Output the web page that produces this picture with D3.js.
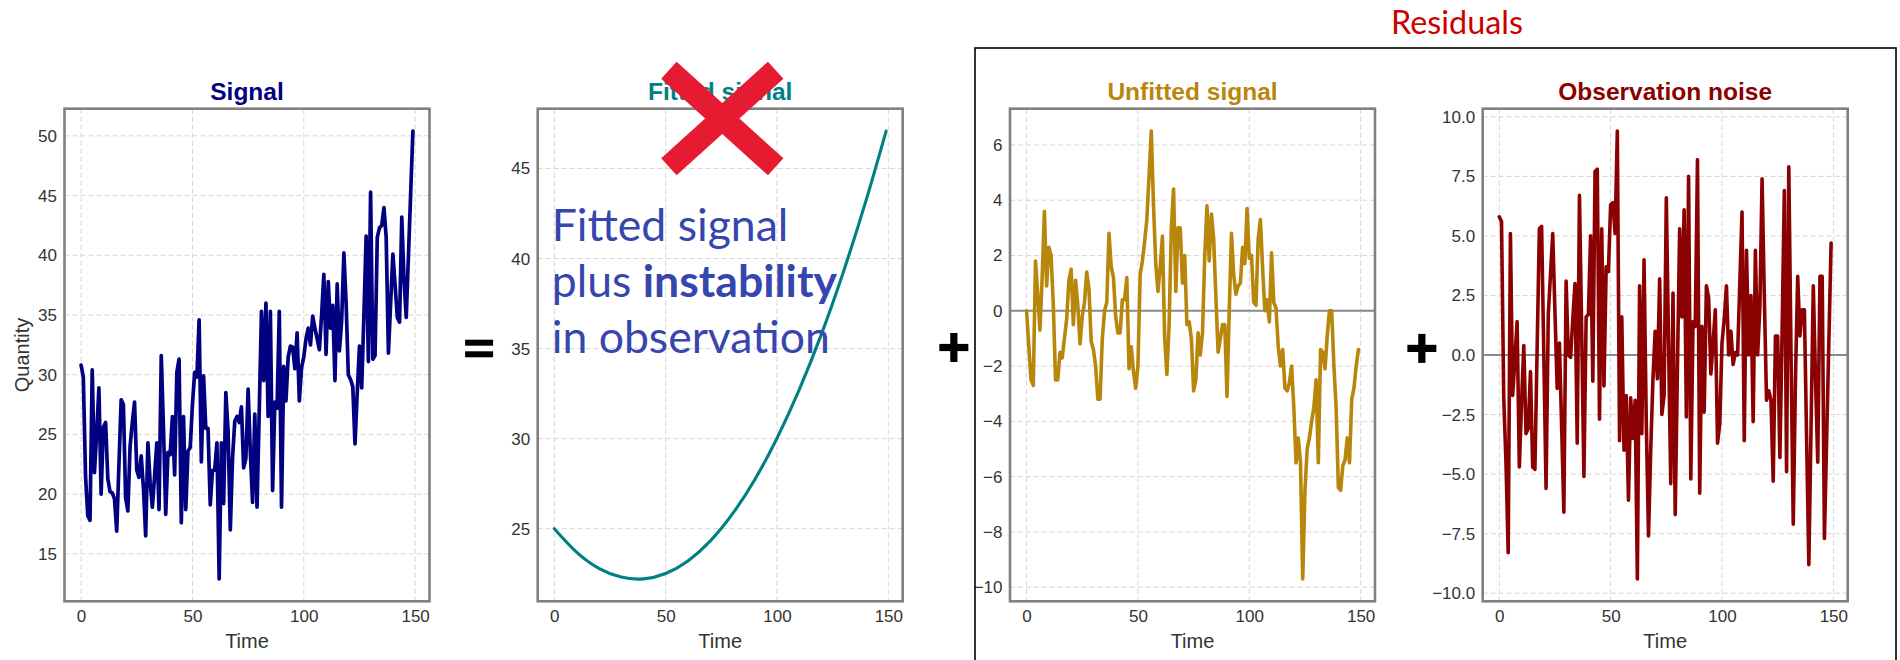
<!DOCTYPE html>
<html><head><meta charset="utf-8">
<script src="https://cdn.jsdelivr.net/npm/d3@7"></script>
<style>html,body{margin:0;padding:0;background:#fff;} svg{display:block;}</style>
</head><body>
<svg id="c" width="1900" height="660"></svg>
<script>
// ---------------- data ----------------
const signal = [30.8,29.8,21.5,18.2,17.8,30.4,21.8,25.1,28.9,20.0,
 25.6,26.0,21.3,20.2,20.1,19.6,16.9,22.5,27.9,27.5,
 19.7,18.6,24.0,26.0,27.7,22.0,21.4,23.2,20.5,16.5,
 24.3,21.0,18.9,21.5,24.3,18.7,31.6,25.5,18.3,23.5,
 23.3,26.5,21.6,30.2,31.3,17.6,26.5,18.7,23.6,23.9,
 27.5,30.2,29.8,34.6,22.7,29.9,25.5,25.5,19.1,22.0,
 22.0,24.3,12.9,24.3,19.2,28.5,25.3,17.0,23.0,26.1,
 26.5,26.0,27.3,22.2,23.0,28.8,23.5,19.3,26.7,18.9,
 27.0,35.3,29.5,36.0,26.5,35.3,20.3,27.7,27.2,35.3,
 18.9,30.7,27.8,31.5,32.4,32.3,30.5,33.5,27.8,30.6,
 31.5,33.0,33.9,32.5,34.9,33.9,33.0,32.1,35.0,38.4,
 31.7,37.8,33.9,35.8,29.5,37.6,32.0,34.5,40.2,36.0,
 30.0,29.6,29.0,24.2,28.5,32.4,28.9,35.0,41.6,31.1,
 45.3,31.3,31.6,41.5,42.3,42.5,44.0,41.5,31.8,36.0,
 40.1,37.5,34.8,34.4,43.2,38.0,34.8,40.0,45.2,50.4];

const fittedTime = [0,10,20,30,40,50,60,70,80,90,100,110,120,130,140,149];
const fitted = [25.0,23.7,22.8,22.31,22.21,22.51,23.21,24.31,25.82,27.72,30.02,32.72,35.82,39.33,43.23,47.08];

const unfitted = [0.0,-1.3,-2.5,-2.7,1.8,0.6,-0.7,1.2,3.6,0.9,
 2.3,2.0,0.2,-2.5,-2.5,-1.5,-1.7,-1.0,-0.3,1.1,
 1.5,-0.5,1.1,0.2,-1.2,-0.2,0.3,1.4,0.8,-1.1,
 -1.4,-2.0,-3.2,-3.2,-1.0,0.0,0.3,2.8,1.6,1.2,
 -0.2,-0.8,-0.8,0.4,0.4,1.2,-2.1,-1.3,-2.2,-2.8,
 -2.0,1.3,1.8,2.5,3.3,4.9,6.5,3.8,1.7,0.7,
 1.6,2.7,-1.0,-2.3,-0.5,3.0,4.4,0.7,3.0,3.0,
 1.0,2.0,-0.5,-0.4,-1.0,-2.9,-2.5,-0.8,-1.6,-0.8,
 2.0,3.8,1.8,3.5,2.6,0.5,-1.5,-1.0,-0.5,-0.5,
 -3.1,0.0,2.8,1.3,0.6,0.9,1.0,2.3,1.7,3.7,
 1.9,2.0,0.3,0.2,2.6,3.3,1.5,0.0,0.4,-0.4,
 2.1,0.3,0.1,-1.3,-2.0,-1.4,-2.8,-2.9,-2.6,-2.0,
 -3.5,-5.5,-4.6,-5.5,-9.7,-6.5,-5.0,-4.6,-4.0,-3.5,
 -2.5,-5.5,-1.4,-1.5,-2.1,-0.9,0.0,0.0,-2.0,-3.5,
 -6.4,-6.5,-5.6,-5.4,-4.6,-5.5,-3.2,-2.8,-2.0,-1.4];

const noise = [5.8,5.6,-1.8,-4.5,-8.3,5.1,-1.7,-0.2,1.4,-4.7,
 -2.0,0.4,-3.3,-3.1,-0.7,-4.7,-4.8,0.3,5.3,5.4,
 0.0,-5.6,1.7,3.4,5.1,1.8,-1.4,0.5,-3.0,-6.6,
 3.1,0.0,-0.1,1.5,3.0,-3.7,6.7,1.0,-5.1,1.6,
 1.7,5.0,-1.1,7.7,7.8,-2.7,5.3,-1.3,3.7,3.5,
 6.3,6.4,5.1,9.4,-3.6,1.6,-4.0,-1.7,-6.1,-1.8,
 -3.5,-1.9,-9.4,2.9,-3.3,4.0,-2.8,-7.6,-4.0,-1.0,
 1.0,-1.0,3.2,-2.5,-1.7,6.6,0.5,-5.4,2.6,-6.7,
 -0.5,5.3,1.6,6.1,-2.6,7.5,-5.2,1.4,1.2,8.2,
 -5.8,1.2,-2.4,2.9,2.4,-0.8,0.5,1.9,-3.7,-2.9,
 0.5,1.5,2.9,0.0,1.0,-0.4,0.1,0.0,3.0,6.0,
 -3.6,4.4,0.0,2.5,-2.8,4.4,0.0,2.0,7.4,2.5,
 -1.9,-1.5,-1.9,-5.3,0.8,0.8,-4.3,1.0,6.9,-4.9,
 7.9,0.0,-7.1,-1.0,3.3,0.8,1.9,1.9,-3.5,-8.8,
 -3.0,2.9,-1.0,-4.5,3.3,3.3,-7.7,-3.5,0.6,4.7];

const time = d3.range(signal.length);
const xTicks = [0, 50, 100, 150];
const signalTicks = [15, 20, 25, 30, 35, 40, 45, 50];
const fittedTicks = [25, 30, 35, 40, 45];
const unfittedTicks = [-10, -8, -6, -4, -2, 0, 2, 4, 6];
const noiseTicks = [-10, -7.5, -5, -2.5, 0, 2.5, 5, 7.5, 10];

const titles = ["Signal", "Fitted signal", "Unfitted signal", "Observation noise"];
const noteLines = [["Fitted signal"], ["plus ", "instability"], ["in observation"]];
const residualsLabel = "Residuals";

// ---------------- layout ----------------
const svg = d3.select("#c");
const FONT = "'Liberation Sans', Arial, sans-serif";
const frameTop = 108.7, frameBottom = 601.3, frameW = 365;
const lefts = [64.5, 537.7, 1010, 1482.7];

const panels = [
  {xs: time, ys: signal, color: "#000080", ticks: signalTicks, fmt: d3.format("d"), zero: false, curve: d3.curveLinear, width: 3.7, ylabel: "Quantity"},
  {xs: fittedTime, ys: fitted, color: "#008080", ticks: fittedTicks, fmt: d3.format("d"), zero: false, curve: d3.curveNatural, width: 3.1},
  {xs: time, ys: unfitted, color: "#b8860b", ticks: unfittedTicks, fmt: d3.format("d"), zero: true, curve: d3.curveLinear, width: 3.6},
  {xs: time, ys: noise, color: "#8b0000", ticks: noiseTicks, fmt: d3.format(".1f"), zero: true, curve: d3.curveLinear, width: 3.6}
];

function padded(ext) { const p = (ext[1] - ext[0]) * 0.05; return [ext[0] - p, ext[1] + p]; }

panels.forEach((p, i) => {
  const L = lefts[i], R = L + frameW;
  const x = d3.scaleLinear().domain(padded([0, time.length - 1])).range([L, R]);
  const y = d3.scaleLinear().domain(padded(d3.extent(p.ys))).range([frameBottom, frameTop]);
  const g = svg.append("g");

  // grid
  g.selectAll(".gx").data(xTicks).enter().append("line")
    .attr("x1", d => x(d)).attr("x2", d => x(d)).attr("y1", frameTop).attr("y2", frameBottom)
    .attr("stroke", "#d6d6d6").attr("stroke-width", 1).attr("stroke-dasharray", "5,3");
  g.selectAll(".gy").data(p.ticks).enter().append("line")
    .attr("x1", L).attr("x2", R).attr("y1", d => y(d)).attr("y2", d => y(d))
    .attr("stroke", "#d6d6d6").attr("stroke-width", 1).attr("stroke-dasharray", "5,3");

  if (p.zero) {
    g.append("line").attr("x1", L).attr("x2", R).attr("y1", y(0)).attr("y2", y(0))
      .attr("stroke", "#8a8a8a").attr("stroke-width", 2);
  }

  // data line
  const line = d3.line().x((d, k) => x(p.xs[k])).y(d => y(d)).curve(p.curve);
  g.append("path").datum(p.ys).attr("d", line).attr("fill", "none")
    .attr("stroke", p.color).attr("stroke-width", p.width)
    .attr("stroke-linejoin", "round").attr("stroke-linecap", "round");

  // frame
  g.append("rect").attr("x", L).attr("y", frameTop).attr("width", frameW).attr("height", frameBottom - frameTop)
    .attr("fill", "none").attr("stroke", "#808080").attr("stroke-width", 2.6);

  // axes
  const ax = g.append("g").attr("transform", `translate(0,${frameBottom})`)
    .call(d3.axisBottom(x).tickValues(xTicks).tickSize(0).tickPadding(8.3).tickFormat(d3.format("d")));
  const ay = g.append("g").attr("transform", `translate(${L},0)`)
    .call(d3.axisLeft(y).tickValues(p.ticks).tickSize(0).tickPadding(7.5).tickFormat(p.fmt));
  [ax, ay].forEach(a => {
    a.select(".domain").remove();
    a.selectAll("text").attr("font-family", FONT).attr("font-size", 17).attr("fill", "#333333");
  });

  // titles and labels
  g.append("text").attr("x", (L + R) / 2).attr("y", 99.5).attr("text-anchor", "middle")
    .attr("font-family", FONT).attr("font-weight", "bold").attr("font-size", 24.5)
    .attr("fill", p.color).text(titles[i]);
  g.append("text").attr("x", (L + R) / 2).attr("y", 647.5).attr("text-anchor", "middle")
    .attr("font-family", FONT).attr("font-size", 20).attr("fill", "#333333").text("Time");
  if (p.ylabel) {
    g.append("text").attr("transform", `translate(28.5,${(frameTop + frameBottom) / 2}) rotate(-90)`)
      .attr("text-anchor", "middle").attr("font-family", FONT).attr("font-size", 20)
      .attr("fill", "#333333").text(p.ylabel);
  }
});

// ---------------- annotations ----------------
// red cross over the fitted-signal title
const cx = 722.3, cy = 118.5, ax = 53.4, ay = 48.3;
[[-1, -1, 1, 1], [1, -1, -1, 1]].forEach(s => {
  svg.append("line").attr("x1", cx + s[0] * ax).attr("y1", cy + s[1] * ay)
    .attr("x2", cx + s[2] * ax).attr("y2", cy + s[3] * ay)
    .attr("stroke", "#e61b31").attr("stroke-width", 23).attr("stroke-linecap", "butt");
});

// blue note
const NOTEFONT = "Lato, 'Open Sans', sans-serif";
const note = svg.append("text").attr("font-family", NOTEFONT).attr("fill", "#3646ae").attr("font-size", 40);
const baselines = [240.6, 297, 353.4];
noteLines.forEach((ln, k) => {
  const t = note.append("tspan").attr("x", 551.7).attr("y", baselines[k]);
  ln.forEach((part, j) => {
    t.append("tspan").attr("font-weight", (k === 1 && j === 1) ? "bold" : "normal").text(part);
  });
});
{
  const first = note.select("tspan").node();
  const w = first.getComputedTextLength();
  note.attr("font-size", 40 * 236.7 / w);
}

// operators
function plus(cxp, cyp) {
  const s = 14.5, t = 3.6;
  svg.append("rect").attr("x", cxp - s).attr("y", cyp - t).attr("width", 2 * s).attr("height", 2 * t).attr("fill", "#000");
  svg.append("rect").attr("x", cxp - t).attr("y", cyp - s).attr("width", 2 * t).attr("height", 2 * s).attr("fill", "#000");
}
function equals(cxp, cyp) {
  const s = 14, t = 3;
  svg.append("rect").attr("x", cxp - s).attr("y", cyp - 5.8 - t).attr("width", 2 * s).attr("height", 2 * t).attr("fill", "#000");
  svg.append("rect").attr("x", cxp - s).attr("y", cyp + 5.8 - t).attr("width", 2 * s).attr("height", 2 * t).attr("fill", "#000");
}
equals((lefts[0] + frameW + lefts[1]) / 2 - 4.5, 348.5);
plus((lefts[1] + frameW + lefts[2]) / 2 - 2.5, 347.5);
plus((lefts[2] + frameW + lefts[3]) / 2 - 7, 348.4);

// residuals box
svg.append("rect").attr("x", 975).attr("y", 48).attr("width", 921).attr("height", 700)
  .attr("fill", "none").attr("stroke", "#000").attr("stroke-width", 1.6);
const res = svg.append("text").attr("x", 1391).attr("y", 34).attr("font-family", NOTEFONT)
  .attr("font-size", 28).attr("fill", "#cc0000").text(residualsLabel);
{
  const w = res.node().getComputedTextLength();
  res.attr("font-size", 28 * 132 / w);
}
</script>
</body></html>
